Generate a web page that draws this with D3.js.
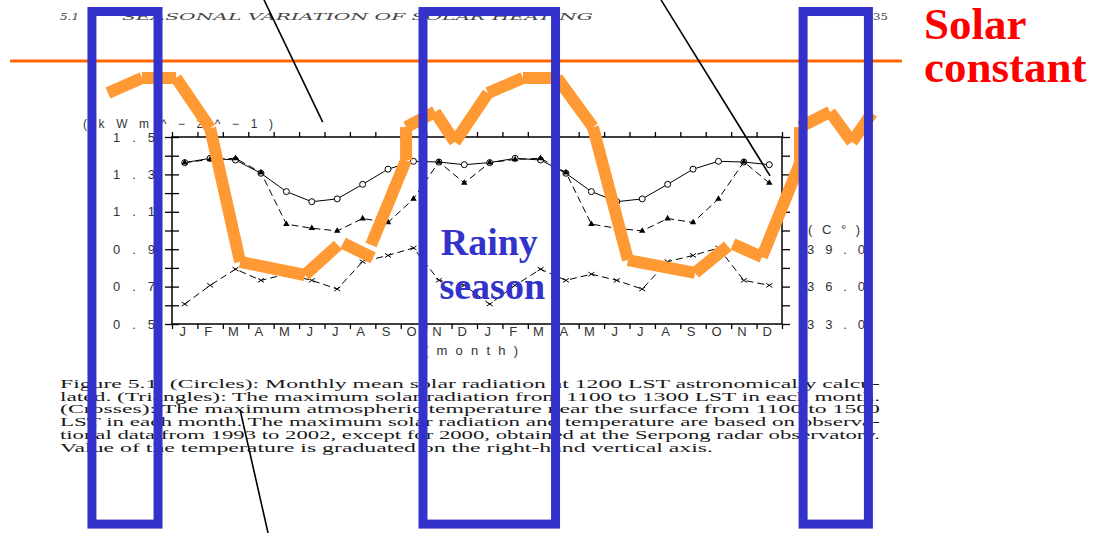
<!DOCTYPE html>
<html>
<head>
<meta charset="utf-8">
<script src="https://cdn.jsdelivr.net/npm/d3@7"></script>
<style>
  body { margin: 0; background: #fff; }
  svg { display: block; }
</style>
</head>
<body>
<svg id="chart" width="1095" height="533"></svg>
<script>
// ---- data ----
const months = ["J", "F", "M", "A", "M", "J", "J", "A", "S", "O", "N", "D"];
const yearsShown = 2; // the climatological year is drawn twice in a row

// monthly mean solar radiation at 1200 LST (kW m^-2)
const circleVals = [1.363, 1.386, 1.377, 1.306, 1.208, 1.154, 1.169, 1.247, 1.328, 1.370, 1.366, 1.352];
// maximum solar radiation 1100-1300 LST (kW m^-2)
const triangleVals = [1.363, 1.380, 1.386, 1.310, 1.034, 1.012, 0.998, 1.064, 1.043, 1.169, 1.367, 1.254];
// maximum near-surface temperature 1100-1500 LST (deg C, right axis)
const crossTemps = [34.6, 36.1, 37.4, 36.5, 37.0, 36.5, 35.8, 38.0, 38.5, 39.1, 36.5, 36.1];

const leftTicks = [1.5, 1.3, 1.1, 0.9, 0.7, 0.5];
const rightTicks = [33, 36, 39];

// hand-drawn curve of radiation at the surface: [month position, kW m^-2]
const surfaceRuns = [
  [[-2.52, 1.735], [-1.18, 1.816], [0.16, 1.816], [1.50, 1.548], [2.68, 0.832], [5.23, 0.762], [6.53, 0.922]],
  [[6.73, 0.933], [7.91, 0.853]],
  [[7.83, 0.922], [9.21, 1.377], [9.21, 1.553], [10.35, 1.634], [11.13, 1.473], [12.43, 1.735], [13.81, 1.816],
   [15.15, 1.816], [16.56, 1.553], [17.94, 0.842], [20.58, 0.773], [21.87, 0.917]],
  [[22.07, 0.928], [23.21, 0.858], [24.71, 1.361], [24.71, 1.553], [25.89, 1.634], [26.75, 1.473], [27.54, 1.628]]
];
const solarConstant = 1.906;
const solarConstantSpan = [-6.37, 28.72];

// rainy-season boxes: [start month position, end month position]
const seasonBoxes = [[-3.15, -0.55], [9.875, 15.09], [24.83, 27.40]];
const boxVertical = [2.171, -0.570];

// pointer lines: [[month, value], [month, value]]
const pointers = [
  [[3.62, 2.233], [5.93, 1.580]],
  [[19.24, 2.233], [23.53, 1.292]],
  [[2.68, 0.040], [3.78, -0.618]]
];

const captionLines = [
  "Figure 5.1: (Circles): Monthly mean solar radiation at 1200 LST astronomically calcu-",
  "lated. (Triangles): The maximum solar radiation from 1100 to 1300 LST in each month.",
  "(Crosses): The maximum atmospheric temperature near the surface from 1100 to 1500",
  "LST in each month. The maximum solar radiation and temperature are based on observa-",
  "tional data from 1993 to 2002, except for 2000, obtained at the Serpong radar observatory.",
  "Value of the temperature is graduated on the right-hand vertical axis."
];

// ---- scales ----
const svg = d3.select("#chart");
const nMonths = months.length * yearsShown;
const x = d3.scaleLinear().domain([0, nMonths]).range([172, 782]);
const y = d3.scaleLinear().domain([0.5, 1.5]).range([324, 137]);
const yT = d3.scaleLinear().domain([33, 48]).range([324, 137]);

const axisFont = "'Liberation Sans', Arial, sans-serif";
const serif = "'Liberation Serif', 'Times New Roman', serif";
const bookSerif = "'DejaVu Serif', 'Liberation Serif', serif";

svg.append("rect").attr("width", 1095).attr("height", 533).attr("fill", "#fff");

// ---- page header ----
const header = svg.append("g")
  .attr("font-family", bookSerif).attr("font-style", "italic")
  .attr("font-size", 9.5).attr("fill", "#444");
header.append("text").attr("x", 60).attr("y", 20)
  .attr("textLength", 19).attr("lengthAdjust", "spacingAndGlyphs").text("5.1");
header.append("text").attr("x", 122).attr("y", 20)
  .attr("textLength", 471).attr("lengthAdjust", "spacingAndGlyphs")
  .text("SEASONAL VARIATION OF SOLAR HEATING");
header.append("text").attr("x", 873).attr("y", 20).attr("font-style", "normal")
  .attr("textLength", 15).attr("lengthAdjust", "spacingAndGlyphs").text("35");

// ---- caption ----
const caption = svg.append("g")
  .attr("font-family", serif).attr("font-size", 12.5).attr("fill", "#1a1a1a");
captionLines.forEach((t, i) => {
  caption.append("text")
    .attr("x", 60).attr("y", 388 + i * 12.7)
    .attr("textLength", i < captionLines.length - 1 ? 820 : 653)
    .attr("lengthAdjust", "spacingAndGlyphs")
    .text(t);
});

// ---- axes ----
const axes = svg.append("g");
axes.append("rect")
  .attr("x", x(0)).attr("y", y(1.5))
  .attr("width", x(nMonths) - x(0)).attr("height", y(0.5) - y(1.5))
  .attr("fill", "none").attr("stroke", "#000").attr("stroke-width", 1.5);

const boundaries = d3.range(0, nMonths + 1);

const topAxis = axes.append("g")
  .attr("transform", `translate(0,${y(1.5)})`)
  .call(d3.axisTop(x).tickValues(boundaries).tickSize(5).tickFormat(""));
const bottomAxis = axes.append("g")
  .attr("transform", `translate(0,${y(0.5)})`)
  .call(d3.axisBottom(x).tickValues(boundaries).tickSize(5).tickFormat(""));

const leftMinor = axes.append("g")
  .attr("transform", `translate(${x(0)},0)`)
  .call(d3.axisLeft(y).tickValues(d3.range(5, 16).map(d => d / 10)).tickSize(7).tickFormat(""));
leftMinor.selectAll(".tick line").attr("x1", -7).attr("x2", 7);

const leftLabels = axes.append("g")
  .attr("transform", `translate(${x(0)},0)`)
  .call(d3.axisLeft(y).tickValues(leftTicks).tickSize(0).tickPadding(17).tickFormat(d3.format(".1f")));

const rightMinor = axes.append("g")
  .attr("transform", `translate(${x(nMonths)},0)`)
  .call(d3.axisRight(yT).tickValues(d3.range(33, 48.01, 1.5)).tickSize(8).tickFormat(""));

const rightLabels = axes.append("g")
  .attr("transform", `translate(${x(nMonths)},0)`)
  .call(d3.axisRight(yT).tickValues(rightTicks).tickSize(0).tickPadding(25).tickFormat(d3.format(".1f")));

[topAxis, bottomAxis, leftMinor, leftLabels, rightMinor, rightLabels].forEach(g => {
  g.select(".domain").remove();
  g.selectAll(".tick line").attr("stroke", "#000").attr("stroke-width", 1.3);
  g.selectAll(".tick text").attr("font-family", axisFont).attr("font-size", 13).attr("fill", "#333");
});
leftLabels.selectAll(".tick text").attr("textLength", 42).attr("lengthAdjust", "spacing");
rightLabels.selectAll(".tick text").attr("textLength", 58).attr("lengthAdjust", "spacing");

// month letters
const monthSeq = d3.range(nMonths).map(i => months[i % months.length]);
axes.append("g")
  .attr("font-family", axisFont).attr("font-size", 13).attr("fill", "#333")
  .attr("text-anchor", "middle")
  .selectAll("text").data(monthSeq).join("text")
  .attr("x", (d, i) => x(i + 0.5) - 2)
  .attr("y", y(0.5) + 3).attr("dy", "0.71em")
  .text(d => d);

axes.append("text")
  .attr("x", 471).attr("y", 350).attr("dy", "0.35em")
  .attr("text-anchor", "middle")
  .attr("font-family", axisFont).attr("font-size", 13).attr("fill", "#333")
  .attr("textLength", 94).attr("lengthAdjust", "spacing")
  .text("(month)");

axes.append("text")
  .attr("x", 83).attr("y", 123.5).attr("dy", "0.35em")
  .attr("font-family", axisFont).attr("font-size", 12).attr("fill", "#333")
  .attr("textLength", 190).attr("lengthAdjust", "spacing")
  .text("(kWm^\u22122^\u22121)");

axes.append("text")
  .attr("x", x(nMonths) + 26).attr("y", yT(40.55)).attr("dy", "0.35em")
  .attr("font-family", axisFont).attr("font-size", 13).attr("fill", "#333")
  .attr("textLength", 52).attr("lengthAdjust", "spacing")
  .text("(C\u00b0)");

// ---- series ----
const series = svg.append("g");
const idx = d3.range(nMonths);
const circ = idx.map(i => circleVals[i % 12]);
const tri = idx.map(i => triangleVals[i % 12]);
const temp = idx.map(i => crossTemps[i % 12]);

const lineL = d3.line().x((d, i) => x(i + 0.5)).y(d => y(d));
const lineT = d3.line().x((d, i) => x(i + 0.5)).y(d => yT(d));

series.append("path").attr("d", lineL(circ))
  .attr("fill", "none").attr("stroke", "#000").attr("stroke-width", 1);
series.append("path").attr("d", lineL(tri))
  .attr("fill", "none").attr("stroke", "#000").attr("stroke-width", 1)
  .attr("stroke-dasharray", "7,4");
series.append("path").attr("d", lineT(temp))
  .attr("fill", "none").attr("stroke", "#000").attr("stroke-width", 1)
  .attr("stroke-dasharray", "7,4");

series.selectAll("circle.c").data(circ).join("circle")
  .attr("class", "c")
  .attr("cx", (d, i) => x(i + 0.5)).attr("cy", d => y(d)).attr("r", 3)
  .attr("fill", "#fff").attr("stroke", "#000").attr("stroke-width", 1);

const triSym = d3.symbol().type(d3.symbolTriangle).size(18);
series.selectAll("path.t").data(tri).join("path")
  .attr("class", "t")
  .attr("transform", (d, i) => `translate(${x(i + 0.5)},${y(d)})`)
  .attr("d", triSym()).attr("fill", "#000");

const crosses = series.selectAll("g.x").data(temp).join("g")
  .attr("class", "x")
  .attr("transform", (d, i) => `translate(${x(i + 0.5)},${yT(d)})`);
crosses.append("line").attr("x1", -3).attr("y1", -2).attr("x2", 3).attr("y2", 2)
  .attr("stroke", "#000").attr("stroke-width", 1);
crosses.append("line").attr("x1", -3).attr("y1", 2).attr("x2", 3).attr("y2", -2)
  .attr("stroke", "#000").attr("stroke-width", 1);

// ---- solar constant ----
svg.append("line")
  .attr("x1", x(solarConstantSpan[0])).attr("x2", x(solarConstantSpan[1]))
  .attr("y1", y(solarConstant)).attr("y2", y(solarConstant))
  .attr("stroke", "#FF6600").attr("stroke-width", 3);

// ---- surface radiation sketch ----
const sketch = svg.append("g");
surfaceRuns.forEach(run => {
  d3.pairs(run).forEach(([a, b]) => {
    sketch.append("line")
      .attr("x1", x(a[0])).attr("y1", y(a[1]))
      .attr("x2", x(b[0])).attr("y2", y(b[1]))
      .attr("stroke", "#FF9933").attr("stroke-width", 12)
      .attr("stroke-linecap", "butt");
  });
});

// ---- pointers ----
pointers.forEach(([a, b]) => {
  svg.append("line")
    .attr("x1", x(a[0])).attr("y1", y(a[1]))
    .attr("x2", x(b[0])).attr("y2", y(b[1]))
    .attr("stroke", "#000").attr("stroke-width", 1.6);
});

// ---- rainy season boxes ----
seasonBoxes.forEach(([m0, m1]) => {
  svg.append("rect")
    .attr("x", x(m0)).attr("y", y(boxVertical[0]))
    .attr("width", x(m1) - x(m0)).attr("height", y(boxVertical[1]) - y(boxVertical[0]))
    .attr("fill", "none").attr("stroke", "#3333CC").attr("stroke-width", 9);
});

const mid = (x(seasonBoxes[1][0]) + x(seasonBoxes[1][1])) / 2;
const rainy = svg.append("g")
  .attr("font-family", serif).attr("font-weight", "bold")
  .attr("font-size", 38).attr("fill", "#3333CC").attr("text-anchor", "middle");
rainy.append("text").attr("x", mid).attr("y", 255).text("Rainy");
rainy.append("text").attr("x", mid + 3).attr("y", 299).text("season");

const sc = svg.append("g")
  .attr("font-family", serif).attr("font-weight", "bold")
  .attr("font-size", 45).attr("fill", "#FF0000");
sc.append("text").attr("x", 924).attr("y", 39).text("Solar");
sc.append("text").attr("x", 924).attr("y", 82).text("constant");
</script>
</body>
</html>
